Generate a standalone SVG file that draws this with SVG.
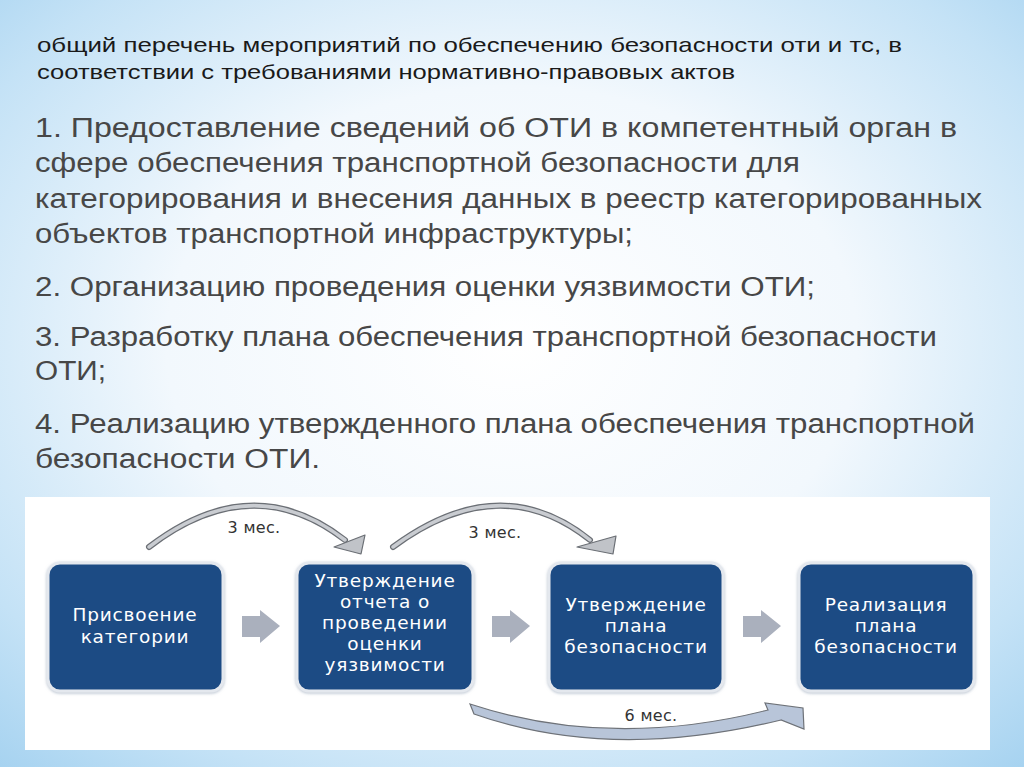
<svg xmlns="http://www.w3.org/2000/svg" width="1024" height="767" viewBox="0 0 1024 767">
<defs>
<radialGradient id="bg" cx="0.5" cy="0.45" r="0.75">
<stop offset="0" stop-color="#ffffff"/>
<stop offset="0.45" stop-color="#f2f8fd"/>
<stop offset="0.8" stop-color="#c4e2f6"/>
<stop offset="1" stop-color="#a5d2f0"/>
</radialGradient>
<filter id="glow" x="-10%" y="-10%" width="120%" height="120%">
<feDropShadow dx="0" dy="1" stdDeviation="1.5" flood-color="#8a9bb0" flood-opacity="0.6"/>
</filter>
<style>
.title{font-family:"Liberation Sans",Arial,sans-serif;font-size:21px;fill:#1a1a1a}
.body{font-family:"Liberation Sans",Arial,sans-serif;font-size:27px;fill:#474747}
.box{fill:#1f4c84;stroke:#e4e8ee;stroke-width:3}
.bt{font-family:"DejaVu Sans",Verdana,sans-serif;font-size:18.5px;letter-spacing:0.8px;fill:#ffffff;text-anchor:middle}
.lbl{font-family:"DejaVu Sans",Verdana,sans-serif;font-size:16px;letter-spacing:0.3px;fill:#333;text-anchor:middle}
.blk{fill:#aab0bd}
.arcO{fill:none;stroke:#6b6f75;stroke-width:6;stroke-linecap:round}
.arcI{fill:none;stroke:#c9ccd1;stroke-width:3.5;stroke-linecap:round}
.head{fill:#c0c3c8;stroke:#6b6f75;stroke-width:1.2;stroke-linejoin:round}
.curveb{fill:#b8c5d9;stroke:#6e7278;stroke-width:1.2}
</style>
</defs>
<rect x="0" y="0" width="1024" height="767" fill="url(#bg)"/>
<text class="title" x="37" y="52" textLength="865" lengthAdjust="spacingAndGlyphs">общий перечень мероприятий по обеспечению безопасности  оти и тс, в</text>
<text class="title" x="37" y="79" textLength="698" lengthAdjust="spacingAndGlyphs">соответствии с требованиями нормативно-правовых актов</text>
<text class="body" x="35" y="137" textLength="922" lengthAdjust="spacingAndGlyphs">1. Предоставление сведений об ОТИ в компетентный орган в</text>
<text class="body" x="35" y="172" textLength="765" lengthAdjust="spacingAndGlyphs">сфере обеспечения транспортной безопасности для</text>
<text class="body" x="35" y="208" textLength="947" lengthAdjust="spacingAndGlyphs">категорирования и внесения данных в реестр категорированных</text>
<text class="body" x="35" y="243" textLength="598" lengthAdjust="spacingAndGlyphs">объектов транспортной инфраструктуры;</text>
<text class="body" x="35" y="296" textLength="780" lengthAdjust="spacingAndGlyphs">2. Организацию проведения оценки уязвимости ОТИ;</text>
<text class="body" x="35" y="346" textLength="902" lengthAdjust="spacingAndGlyphs">3. Разработку плана обеспечения транспортной безопасности</text>
<text class="body" x="35" y="380" textLength="71" lengthAdjust="spacingAndGlyphs">ОТИ;</text>
<text class="body" x="35" y="433" textLength="940" lengthAdjust="spacingAndGlyphs">4. Реализацию утвержденного плана обеспечения транспортной</text>
<text class="body" x="35" y="468" textLength="285" lengthAdjust="spacingAndGlyphs">безопасности ОТИ.</text>
<rect x="25" y="497" width="965" height="253" fill="#ffffff"/>
<g id="connectors">
<path class="arcO" d="M149,547 Q252,468 345,540"/>
<path class="arcI" d="M149,547 Q252,468 345,540"/>
<polygon class="head" points="334,547 365,535 361,554"/>
<path class="arcO" d="M393,547 Q500,468 590,540"/>
<path class="arcI" d="M393,547 Q500,468 590,540"/>
<polygon class="head" points="577,547 616,536 613,554"/>
<path class="curveb" d="M470,704 Q610,750 768,710 L765,703 L803,708 L804,729 L781,720 Q610,762 474,714 Z"/>
<path class="blk" d="M242,616 L260,616 L260,610 L280,626 L260,643 L260,637 L242,637 Z"/>
<path class="blk" d="M492,616 L510,616 L510,610 L530,626 L510,643 L510,637 L492,637 Z"/>
<path class="blk" d="M743,616 L761,616 L761,610 L781,626 L761,643 L761,637 L743,637 Z"/>
<text class="lbl" x="254" y="533">3 мес.</text>
<text class="lbl" x="495" y="538">3 мес.</text>
<text class="lbl" x="651" y="721">6 мес.</text>
</g>
<g id="n1">
<rect class="box" x="48" y="563" width="175" height="128" rx="12" filter="url(#glow)"/>
<text class="bt" x="135" y="621">Присвоение</text>
<text class="bt" x="135" y="643">категории</text>
</g>
<g id="n2">
<rect class="box" x="297" y="563" width="176" height="128" rx="12" filter="url(#glow)"/>
<text class="bt" x="385" y="587">Утверждение</text>
<text class="bt" x="385" y="608">отчета о</text>
<text class="bt" x="385" y="629">проведении</text>
<text class="bt" x="385" y="650">оценки</text>
<text class="bt" x="385" y="671">уязвимости</text>
</g>
<g id="n3">
<rect class="box" x="549" y="563" width="174" height="128" rx="12" filter="url(#glow)"/>
<text class="bt" x="636" y="611">Утверждение</text>
<text class="bt" x="636" y="632">плана</text>
<text class="bt" x="636" y="653">безопасности</text>
</g>
<g id="n4">
<rect class="box" x="799" y="563" width="175" height="128" rx="12" filter="url(#glow)"/>
<text class="bt" x="886" y="611">Реализация</text>
<text class="bt" x="886" y="632">плана</text>
<text class="bt" x="886" y="653">безопасности</text>
</g>
</svg>
